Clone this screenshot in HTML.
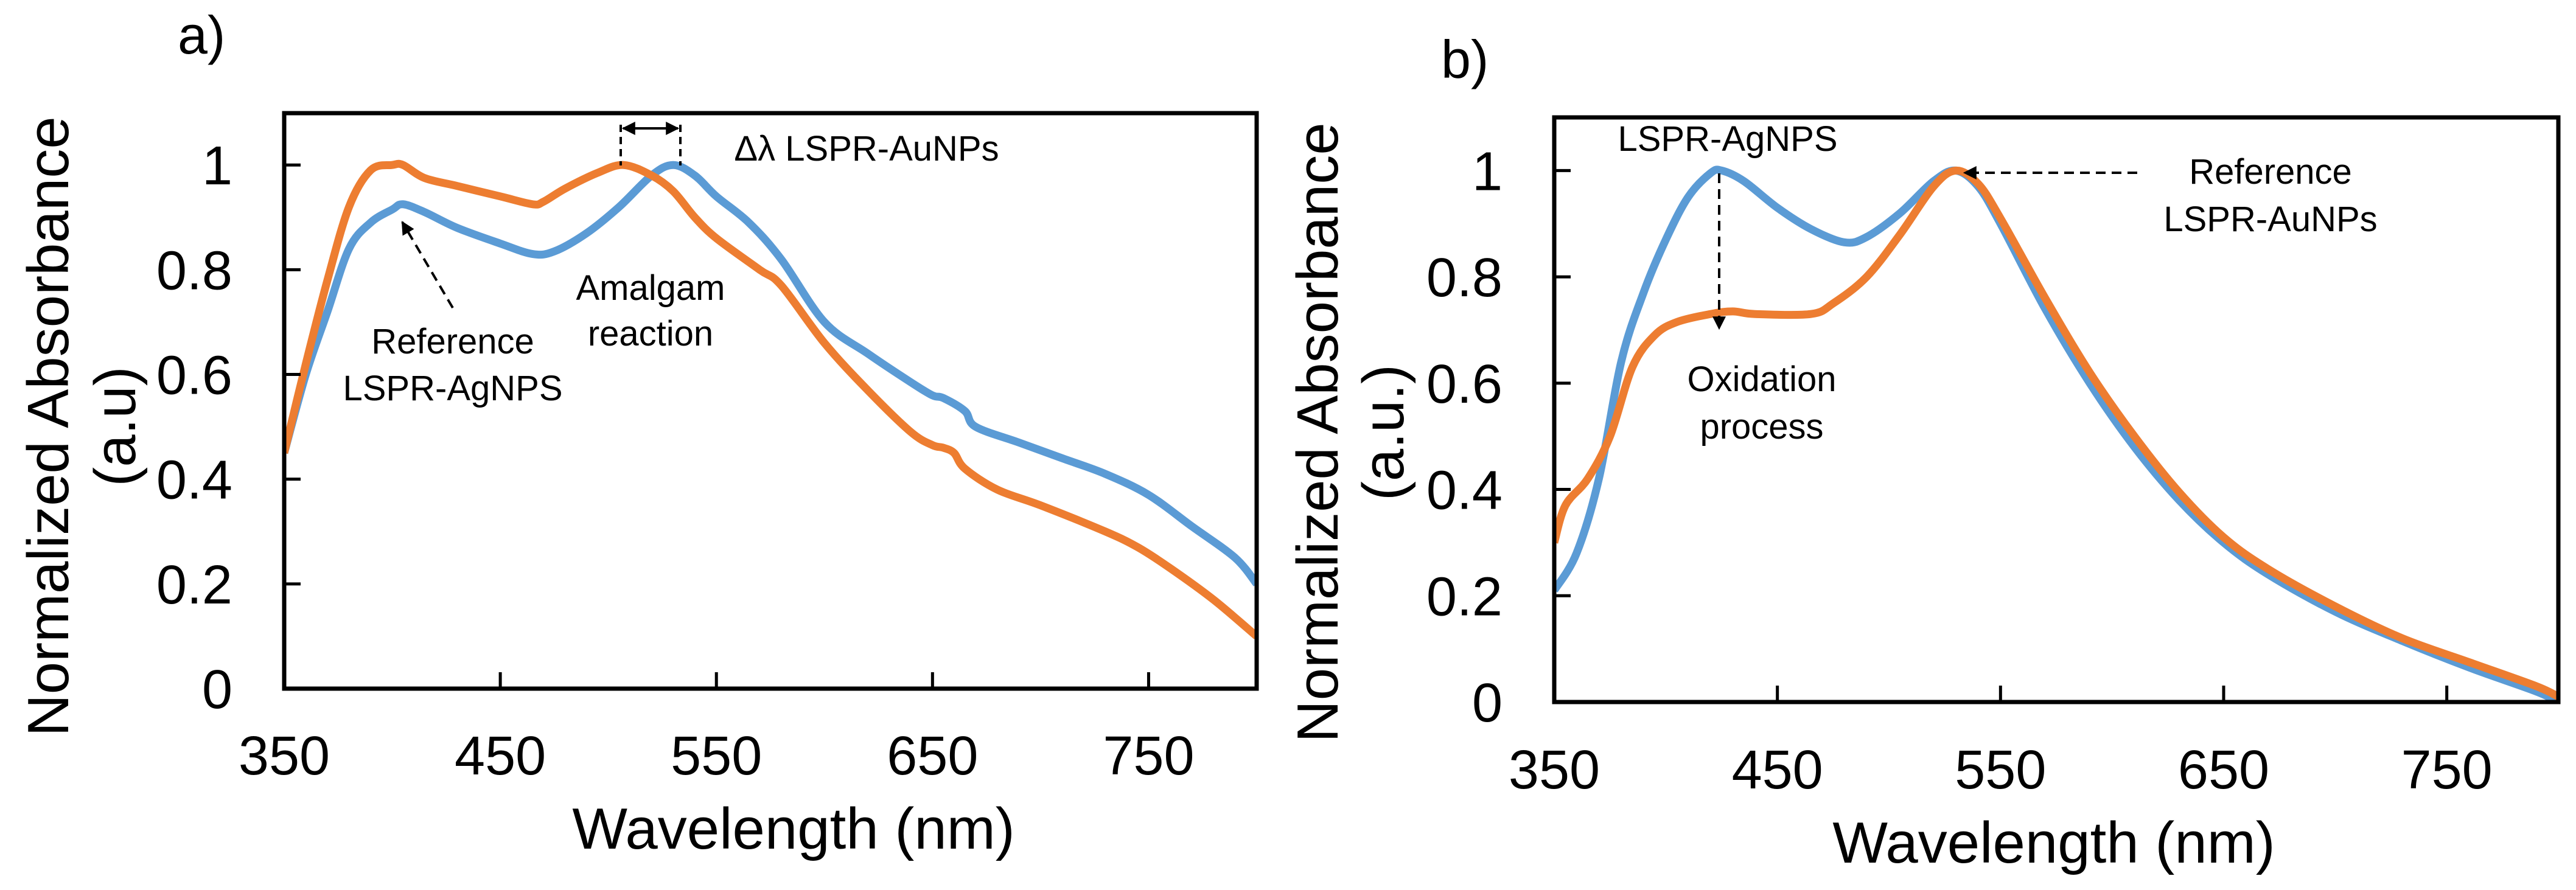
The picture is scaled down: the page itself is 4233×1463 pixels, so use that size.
<!DOCTYPE html>
<html><head><meta charset="utf-8"><style>
html,body{margin:0;padding:0;background:#fff}
svg{display:block;font-family:"Liberation Sans",Arial,sans-serif}
</style></head><body>
<svg id="fig" width="4233" height="1463" viewBox="0 0 4233 1463" xmlns="http://www.w3.org/2000/svg">
<defs>
<marker id="ah2" viewBox="0 0 10 10" refX="9" refY="5" markerWidth="22" markerHeight="22" orient="auto-start-reverse" markerUnits="userSpaceOnUse"><path d="M0,0L10,5L0,10z" fill="#000"/></marker>
</defs>
<g id="pa"></g>
<g id="pb"></g>
<text x="292" y="88" font-size="88">a)</text>
<text x="2368" y="128" font-size="88">b)</text>
</svg>
<script>
const xTicks = [350, 450, 550, 650, 750];
const yTicks = [0, 0.2, 0.4, 0.6, 0.8, 1];
const yTickLabels = ["0", "0.2", "0.4", "0.6", "0.8", "1"];
const aBlueX = [350,360,370,380,390,400,405,415,430,450,465,475,490,505,520,530,540,550,565,580,600,620,640,650,655,665,670,690,710,730,750,770,790,800];
const aBlueY = [0.45,0.6,0.72,0.84,0.89,0.915,0.925,0.91,0.88,0.85,0.83,0.835,0.87,0.92,0.98,1.0,0.98,0.94,0.89,0.82,0.7,0.64,0.585,0.56,0.555,0.53,0.5,0.47,0.44,0.41,0.37,0.31,0.25,0.2];
const aOrangeX = [350,360,370,380,390,400,405,415,430,450,465,470,480,495,507,520,530,540,550,570,580,600,620,640,650,655,660,665,680,700,730,745,760,780,800];
const aOrangeY = [0.45,0.62,0.78,0.92,0.99,1.0,1.0,0.975,0.96,0.94,0.925,0.93,0.955,0.985,1.0,0.98,0.95,0.9,0.86,0.8,0.77,0.66,0.57,0.49,0.465,0.46,0.45,0.42,0.38,0.35,0.3,0.27,0.23,0.17,0.1];
const bBlueX = [350,360,370,380,390,400,410,420,425,435,450,465,480,490,505,520,530,540,550,570,590,610,630,650,670,700,730,760,790,800];
const bBlueY = [0.21,0.28,0.42,0.64,0.77,0.87,0.95,0.995,1.0,0.98,0.93,0.89,0.865,0.875,0.92,0.98,1.0,0.97,0.9,0.74,0.6,0.48,0.38,0.3,0.24,0.17,0.115,0.065,0.02,0.0];
const bOrangeX = [350,355,365,375,385,395,405,420,430,440,465,475,490,505,520,530,540,550,570,590,610,630,650,670,700,730,760,790,800];
const bOrangeY = [0.3,0.37,0.42,0.5,0.63,0.69,0.715,0.73,0.735,0.73,0.73,0.75,0.8,0.88,0.97,1.0,0.975,0.91,0.76,0.62,0.5,0.395,0.31,0.25,0.18,0.12,0.075,0.03,0.01];

const NS = "http://www.w3.org/2000/svg";
function mk(tag, attrs, parent, txt){const e=document.createElementNS(NS,tag);for(const k in attrs)e.setAttribute(k,attrs[k]);if(txt!==undefined)e.textContent=txt;parent.appendChild(e);return e;}
function smooth(pts){let d="M"+pts[0][0]+","+pts[0][1];for(let i=0;i<pts.length-1;i++){const p0=pts[i-1]||pts[i],p1=pts[i],p2=pts[i+1],p3=pts[i+2]||p2;const c1x=p1[0]+(p2[0]-p0[0])/6,c1y=p1[1]+(p2[1]-p0[1])/6,c2x=p2[0]-(p3[0]-p1[0])/6,c2y=p2[1]-(p3[1]-p1[1])/6;d+=`C${c1x},${c1y} ${c2x},${c2y} ${p2[0]},${p2[1]}`;}return d;}

function panel(g, L, R, T, B, yMax, series, xLabY, id){
  const sx = v => L + (v-350)/(800-350)*(R-L);
  const sy = v => B - v/yMax*(B-T);
  const clip = mk("clipPath",{id:"clip"+id},g);
  mk("rect",{x:L,y:T,width:R-L,height:B-T},clip);
  series.forEach(s=>{
    const pts = s.x.map((v,i)=>[sx(v),sy(s.y[i])]);
    const p = mk("path",{d:smooth(pts),fill:"none",stroke:s.c,"stroke-width":13,"stroke-linejoin":"round","clip-path":`url(#clip${id})`},g);
    
    
  });
  const fr = mk("rect",{x:L,y:T,width:R-L,height:B-T,fill:"none",stroke:"#000","stroke-width":7},g);
  
  
  yTicks.forEach((v,i)=>{
    if(v>0){const t=mk("line",{x1:L,x2:L+27,y1:sy(v),y2:sy(v),stroke:"#000","stroke-width":5},g);
    
    }
    const tl=mk("text",{x:L-85,y:sy(v)+32,"font-size":90,"text-anchor":"end"},g,yTickLabels[i]);
    
    
  });
  xTicks.forEach(v=>{
    if(v>350){const t=mk("line",{x1:sx(v),x2:sx(v),y1:B,y2:B-27,stroke:"#000","stroke-width":5},g);
    
    }
    const tl=mk("text",{x:sx(v),y:xLabY,"font-size":90,"text-anchor":"middle"},g,String(v));
    
    
  });
  return {sx,sy};
}
const ga=document.getElementById("pa"), gb=document.getElementById("pb");
panel(ga,467,2065,186,1132,1.099,[{x:aBlueX,y:aBlueY,c:"#5B9BD5",name:"series-a-blue"},{x:aOrangeX,y:aOrangeY,c:"#ED7D31",name:"series-a-orange"}],1273,"a");
panel(gb,2554,4204,193,1154,1.1,[{x:bBlueX,y:bBlueY,c:"#5B9BD5",name:"series-b-blue"},{x:bOrangeX,y:bOrangeY,c:"#ED7D31",name:"series-b-orange"}],1296,"b");

function txt(g,x,y,s,fs,name,rot){const a={x:x,y:y,"font-size":fs,"text-anchor":"middle"};if(rot)a.transform=`rotate(-90 ${x} ${y})`;const t=mk("text",a,g,s);return t;}
// axis titles
txt(ga,1304,1395,"Wavelength (nm)",96,"x-axis-title-a");
txt(gb,3375,1418,"Wavelength (nm)",96,"x-axis-title-b");
txt(ga,112,701,"Normalized Absorbance",96,"y-axis-title-a",true);
txt(ga,222,701,"(a.u)",96,"y-axis-units-a",true);
txt(gb,2198,711,"Normalized Absorbance",96,"y-axis-title-b",true);
txt(gb,2306,711,"(a.u.)",96,"y-axis-units-b",true);
// annotations panel a
txt(ga,1424,264,"Δλ LSPR-AuNPs",58,"delta-lambda-label");
txt(ga,1069,493,"Amalgam",58,"amalgam-label");
txt(ga,1069,568,"reaction",58,"reaction-label");
txt(ga,744,581,"Reference",58,"reference-ag-label");
txt(ga,744,658,"LSPR-AgNPS",58,"lspr-agnps-label-a");
[[1020],[1118]].forEach(([x])=>{const l=mk("line",{x1:x,x2:x,y1:205,y2:272,stroke:"#000","stroke-width":4,"stroke-dasharray":"12,8"},ga);});
let l=mk("line",{x1:1024,x2:1114,y1:211,y2:211,stroke:"#000","stroke-width":4,"marker-start":"url(#ah2)","marker-end":"url(#ah2)"},ga);


l=mk("line",{x1:744,x2:661,y1:506,y2:365,stroke:"#000","stroke-width":4,"stroke-dasharray":"16,10","marker-end":"url(#ah2)"},ga);


// annotations panel b
txt(gb,2839,248,"LSPR-AgNPS",58,"lspr-agnps-label-b");
txt(gb,2895,643,"Oxidation",58,"oxidation-label");
txt(gb,2895,721,"process",58,"process-label");
txt(gb,3731,302,"Reference",58,"reference-au-label");
txt(gb,3731,380,"LSPR-AuNPs",58,"lspr-aunps-label");
l=mk("line",{x1:2825,x2:2825,y1:285,y2:540,stroke:"#000","stroke-width":4,"stroke-dasharray":"16,10","marker-end":"url(#ah2)"},gb);


l=mk("line",{x1:3512,x2:3228,y1:284,y2:284,stroke:"#000","stroke-width":4,"stroke-dasharray":"16,10","marker-end":"url(#ah2)"},gb);


</script>
</body></html>
